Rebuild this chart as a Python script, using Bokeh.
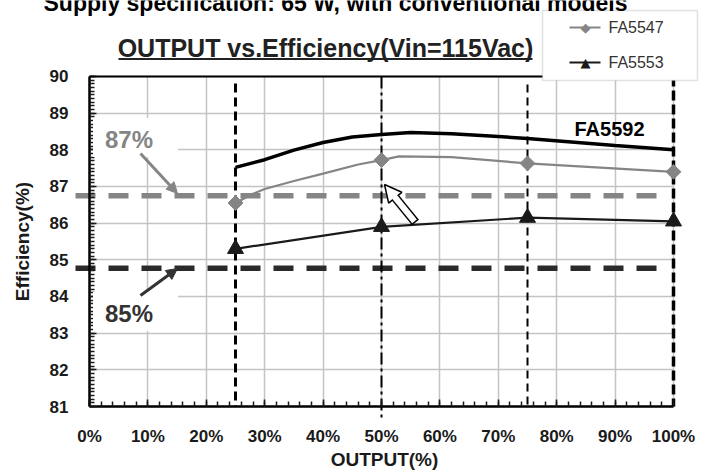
from bokeh.plotting import figure
from bokeh.models import (Range1d, SingleIntervalTicker, Label, Arrow, NormalHead,
                          BoxAnnotation, LinearAxis)
from bokeh.embed import file_html
from bokeh.resources import INLINE
import math

# ---------------- data ----------------
load_points = [25, 50, 75, 100]                      # OUTPUT (%) measuring points
fa5547_x = [25, 28, 30, 35, 40, 46, 50, 53, 62, 75, 100]
fa5547_y = [86.55, 86.80, 86.93, 87.15, 87.35, 87.60, 87.72, 87.82, 87.80, 87.63, 87.40]
fa5547_marker_y = [86.55, 87.72, 87.63, 87.40]
fa5553_y = [85.30, 85.90, 86.15, 86.05]
fa5592_x = [25, 30, 35, 40, 45, 50, 55, 62, 70, 75, 90, 100]
fa5592_y = [87.52, 87.73, 87.99, 88.20, 88.35, 88.42, 88.47, 88.44, 88.36, 88.31, 88.12, 88.00]
threshold_levels = [86.75, 84.77]
threshold_labels = ["87%", "85%"]
x_ticks = [0, 10, 20, 30, 40, 50, 60, 70, 80, 90, 100]
x_tick_labels = ["0%", "10%", "20%", "30%", "40%", "50%", "60%", "70%", "80%", "90%", "100%"]
series_names = ["FA5547", "FA5553", "FA5592"]

FONT = "Liberation Sans"
GREY = "#858585"
DARK = "#1a1a1a"

W, H = 710, 474
# page-pixel -> data helpers (plot area: x 0..100 at px 89..673, y 81..90 at px 406..76)
def dx(px):
    return (px - 89) / 5.84

def dy(py):
    return 81 + (406 - py) / 36.67

p = figure(width=W, height=H, x_range=Range1d(dx(0), dx(W)), y_range=Range1d(dy(H), dy(0)),
           output_backend="svg", toolbar_location=None,
           x_axis_location=None, y_axis_location=None, min_border=0)
p.outline_line_color = None
p.background_fill_color = "white"
p.border_fill_color = "white"

# axes drawn at the data origin
xaxis = LinearAxis(fixed_location=81, bounds=(0, 100),
                   ticker=SingleIntervalTicker(interval=10, num_minor_ticks=5))
yaxis = LinearAxis(fixed_location=0, bounds=(81, 90),
                   ticker=SingleIntervalTicker(interval=1, num_minor_ticks=10))
xaxis.major_label_overrides = {t: l for t, l in zip(x_ticks, x_tick_labels)}
for ax in (xaxis, yaxis):
    ax.axis_line_color = "black"
    ax.axis_line_width = 2.5
    ax.major_tick_in = 7
    ax.major_tick_out = 0
    ax.minor_tick_in = 5
    ax.minor_tick_out = 0
    ax.major_tick_line_color = DARK
    ax.minor_tick_line_color = DARK
    ax.major_tick_line_width = 1.5
    ax.minor_tick_line_width = 1.5
    ax.major_label_text_font = FONT
    ax.major_label_text_font_style = "bold"
    ax.major_label_text_font_size = "17px"
    ax.major_label_text_color = DARK
yaxis.major_label_standoff = 21
xaxis.major_label_standoff = 20
p.add_layout(xaxis, "below")
p.add_layout(yaxis, "left")

p.xgrid.ticker = SingleIntervalTicker(interval=10)
p.xgrid.bounds = (0, 100)
p.xgrid.cross_bounds = (81, 90)
p.ygrid.ticker = SingleIntervalTicker(interval=1)
p.ygrid.bounds = (81, 90)
p.ygrid.cross_bounds = (0, 100)
p.grid.grid_line_color = "#c4c4c4"
p.grid.grid_line_width = 1.5

# reference lines (dashed)
h_colors = [GREY, "#2a2a2a"]
for lvl, col in zip(threshold_levels, h_colors):
    p.add_layout(Arrow(end=None, x_start=dx(75), x_end=dx(656), y_start=lvl, y_end=lvl,
                       line_color=col, line_width=5.5, line_dash="20 13", level="underlay"))

v_styles = {25: (3.0, "9 5", dy(83), 81),
            50: (2.0, "12 4 3 4", 90, dy(418)),
            75: (2.0, "8 5", dy(84), 81),
            100: (3.5, "10 4", 90, 81)}
for xv in load_points:
    w, dash, y0, y1 = v_styles[xv]
    p.add_layout(Arrow(end=None, x_start=xv, x_end=xv, y_start=y0, y_end=y1,
                       line_color="black", line_width=w, line_dash=dash, level="underlay"))

# data series
p.line(fa5592_x, fa5592_y, line_width=3.5, line_color="black")
p.line(fa5547_x, fa5547_y, line_width=2.2, line_color=GREY)
p.scatter(load_points, fa5547_marker_y, marker="square", angle=math.pi / 4, size=10.5,
          fill_color=GREY, line_color=GREY)
p.line(load_points, fa5553_y, line_width=2.2, line_color=DARK)
p.scatter(load_points, fa5553_y, marker="triangle", size=16, fill_color=DARK, line_color=DARK)

# top frame border
p.add_layout(Arrow(end=None, x_start=0, x_end=100, y_start=90, y_end=90,
                   line_color="black", line_width=2))

# threshold labels with white boxes
p.add_layout(Label(x=dx(135), y=dy(137), text=threshold_labels[0], text_align="center",
                   text_baseline="middle", text_font=FONT, text_font_style="bold",
                   text_font_size="24px", text_color=GREY,
                   background_fill_color="white", padding=(12, 25, 8, 4)))
p.add_layout(Label(x=dx(135), y=dy(311), text=threshold_labels[1], text_align="center",
                   text_baseline="middle", text_font=FONT, text_font_style="bold",
                   text_font_size="24px", text_color="#333333",
                   background_fill_color="white", padding=(12, 25, 8, 4)))
p.add_layout(Arrow(x_start=dx(140), y_start=dy(153), x_end=dx(177), y_end=dy(193),
                   line_color=GREY, line_width=3,
                   end=NormalHead(size=11, fill_color=GREY, line_color=GREY)))
p.add_layout(Arrow(x_start=dx(140), y_start=dy(295), x_end=dx(177), y_end=dy(268),
                   line_color="#333333", line_width=3,
                   end=NormalHead(size=11, fill_color="#333333", line_color="#333333")))

# hollow arrow
tip = (384, 184)
tail = (415, 222)
L = math.hypot(tip[0] - tail[0], tip[1] - tail[1])
ux, uy = (tip[0] - tail[0]) / L, (tip[1] - tail[1]) / L
hs = 17
p.add_layout(Arrow(x_start=dx(tail[0]), y_start=dy(tail[1]), x_end=dx(tip[0]), y_end=dy(tip[1]),
                   line_color="black", line_width=9,
                   end=NormalHead(size=hs, fill_color="white", line_color="black", line_width=1.5)))
b = (tip[0] - ux * (hs - 1.5), tip[1] - uy * (hs - 1.5))
t2 = (tail[0] + ux * 1.5, tail[1] + uy * 1.5)
p.add_layout(Arrow(end=None, x_start=dx(t2[0]), y_start=dy(t2[1]), x_end=dx(b[0]), y_end=dy(b[1]),
                   line_color="white", line_width=6))

# series label
p.add_layout(Label(x=dx(609), y=dy(128), text=series_names[2], text_align="center",
                   text_baseline="middle", text_font=FONT, text_font_style="bold",
                   text_font_size="20px", text_color="black"))

# title + underline
p.add_layout(Label(x=dx(325), y=dy(47), text="OUTPUT vs.Efficiency(Vin=115Vac)", text_align="center",
                   text_baseline="middle", text_font=FONT, text_font_style="bold",
                   text_font_size="25px", text_color="#222222"))
p.add_layout(Arrow(end=None, x_start=dx(118), x_end=dx(532), y_start=dy(58.5), y_end=dy(58.5),
                   line_color="#222222", line_width=1.8))

# legend (manual)
p.add_layout(BoxAnnotation(left=dx(542), right=dx(697), top=dy(10), bottom=dy(80),
                           fill_color="white", fill_alpha=1, line_color="#9a9a9a", line_width=1.5))
leg = [(series_names[0], GREY, "\u25c6", dy(27)), (series_names[1], DARK, "\u25b2", dy(62))]
for name, col, sym, yy in leg:
    p.add_layout(Arrow(end=None, x_start=dx(569), x_end=dx(600), y_start=yy, y_end=yy,
                       line_color=col, line_width=2.2))
    p.add_layout(Label(x=dx(585), y=yy, text=sym, text_align="center", text_baseline="middle",
                       text_font="DejaVu Sans", text_font_size="13px", text_color=col))
    p.add_layout(Label(x=dx(608), y=yy, text=name, text_align="left", text_baseline="middle",
                       text_font=FONT, text_font_size="16px", text_color="#333333"))

# cut-off heading at the very top (only its lower part is inside the picture)
p.add_layout(Label(x=dx(43), y=dy(2), text="Supply specification: 65 W, with conventional models",
                   text_align="left", text_baseline="alphabetic", text_font=FONT,
                   text_font_style="bold", text_font_size="23px", text_color="black"))

# axis titles
p.add_layout(Label(x=dx(384), y=dy(459), text="OUTPUT(%)", text_align="center",
                   text_baseline="middle", text_font=FONT, text_font_style="bold",
                   text_font_size="19px", text_color=DARK))
p.add_layout(Label(x=dx(22), y=dy(241), text="Efficiency(%)", text_align="center",
                   text_baseline="middle", text_font=FONT, text_font_style="bold",
                   text_font_size="19px", text_color=DARK, angle=math.pi / 2))

open("out.html", "w").write(file_html(p, INLINE))
